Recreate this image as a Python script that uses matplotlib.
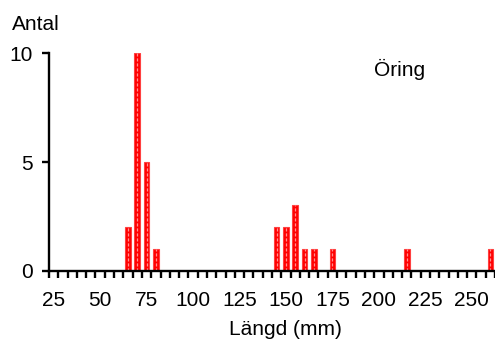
import numpy as np
import matplotlib
matplotlib.use("Agg")
import matplotlib.pyplot as plt

# Längdfördelning öring (mm) och antal fiskar
langd = [65, 70, 75, 80, 145, 150, 155, 160, 165, 175, 215, 260]
antal = [2, 10, 5, 1, 2, 2, 3, 1, 1, 1, 1, 1]
x_etiketter = [25, 50, 75, 100, 125, 150, 175, 200, 225, 250]
y_etiketter = [0, 5, 10]

plt.rcParams['font.family'] = ['Liberation Sans', 'DejaVu Sans']

W, H = 495, 345
fig = plt.figure(figsize=(W/100, H/100), dpi=100)
ax = fig.add_axes([49/W, 1-270.7/H, (495-49)/W, (270.7-53.3)/H])

ax.bar(langd, antal, width=3, color="#ff0000", edgecolor="#ff4040", linewidth=0.8, zorder=2)
# ljus streckad mittlinje i staplarna
for xs, ys in zip(langd, antal):
    ax.plot([xs, xs], [0, ys], color="#ff9090", lw=0.9, dashes=(2.5, 1.5), zorder=3)

ax.set_xlim(22.5, 262.5)
ax.set_ylim(0, 10)

for s in ["top", "right"]:
    ax.spines[s].set_visible(False)
for s in ["left", "bottom"]:
    ax.spines[s].set_linewidth(1.7)
    ax.spines[s].set_clip_on(False)
    ax.spines[s].set_zorder(4)

ax.set_xticks(x_etiketter)
ax.set_xticks(np.arange(22.5, 263, 5), minor=True)
ax.tick_params(axis="x", which="major", length=0, pad=14.5, labelsize=15)
ax.tick_params(axis="x", which="minor", length=5, width=1.7, direction="out")
ax.set_yticks(y_etiketter)
ax.tick_params(axis="y", length=5, width=1.7, pad=6.5, labelsize=15)

fig.text(12/W, 1-30/H, "Antal", fontsize=15, va="baseline", ha="left")
fig.text(285/W, 1-335/H, "Längd (mm)", fontsize=15, va="baseline", ha="center")
fig.text(374/W, 1-76/H, "Öring", fontsize=15, va="baseline", ha="left")

fig.savefig("out.png", dpi=100)
